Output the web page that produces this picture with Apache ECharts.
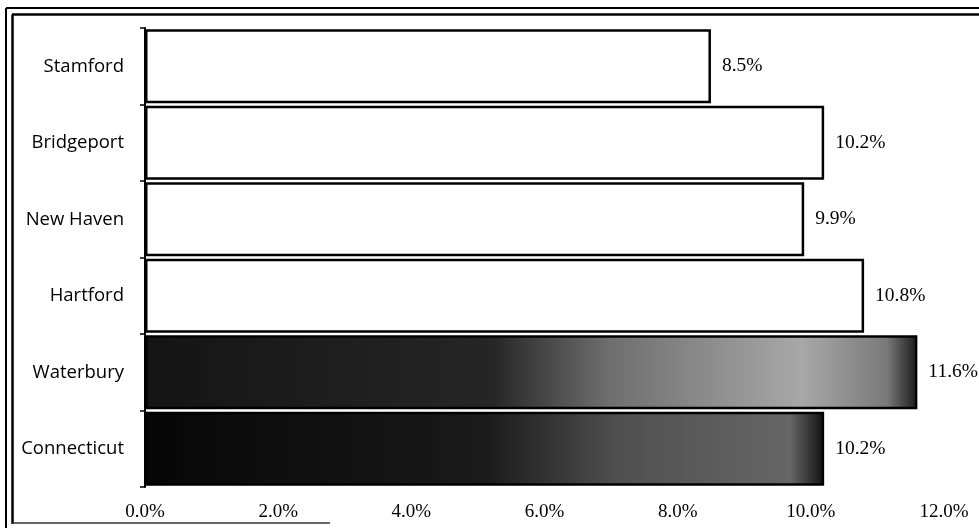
<!DOCTYPE html>
<html>
<head>
<meta charset="utf-8">
<script src="https://cdn.jsdelivr.net/npm/echarts@6/dist/echarts.min.js"></script>
<style>
  html, body { margin: 0; padding: 0; background: #ffffff; }
  #chart { width: 979px; height: 528px; }
</style>
</head>
<body>
<div id="chart"></div>
<script>
// Unemployment rate by city (top to bottom)
const cities = ['Stamford', 'Bridgeport', 'New Haven', 'Hartford', 'Waterbury', 'Connecticut'];
const rates = [8.5, 10.2, 9.9, 10.8, 11.6, 10.2];
const axisTicks = [0, 2, 4, 6, 8, 10, 12];

// Dark shaded fills for the last two bars, plain white for the rest
const darkFills = {
  'Waterbury': new echarts.graphic.LinearGradient(0, 0, 1, 0, [
    { offset: 0, color: '#141414' },
    { offset: 0.45, color: '#262626' },
    { offset: 0.6, color: '#6e6e6e' },
    { offset: 0.85, color: '#a8a8a8' },
    { offset: 0.96, color: '#7a7a7a' },
    { offset: 1, color: '#1a1a1a' }
  ]),
  'Connecticut': new echarts.graphic.LinearGradient(0, 0, 1, 0, [
    { offset: 0, color: '#060606' },
    { offset: 0.5, color: '#1a1a1a' },
    { offset: 0.7, color: '#505050' },
    { offset: 0.95, color: '#666666' },
    { offset: 1, color: '#121212' }
  ])
};

const barData = cities.map((name, i) => ({
  value: rates[i],
  itemStyle: {
    color: darkFills[name] || '#ffffff',
    borderColor: '#000000',
    borderWidth: 2.5
  }
}));

const chart = echarts.init(document.getElementById('chart'), null, { renderer: 'canvas' });

chart.setOption({
  animation: false,
  backgroundColor: '#ffffff',
  grid: { left: 145, right: 35, top: 28, bottom: 41, containLabel: false },
  xAxis: {
    type: 'value',
    min: axisTicks[0],
    max: axisTicks[axisTicks.length - 1],
    interval: axisTicks[1] - axisTicks[0],
    axisLine: { show: false },
    axisTick: { show: false },
    splitLine: { show: false },
    axisLabel: {
      margin: 16,
      color: '#000000',
      fontFamily: 'Liberation Serif',
      fontSize: 19,
      formatter: v => v.toFixed(1) + '%'
    }
  },
  yAxis: {
    type: 'category',
    data: cities,
    inverse: true,
    axisLine: { show: true, lineStyle: { color: '#000000', width: 2 } },
    axisTick: { show: true, length: 5, lineStyle: { color: '#000000', width: 1.5 } },
    splitLine: { show: false },
    axisLabel: {
      margin: 21,
      color: '#000000',
      fontFamily: 'Open Sans',
      fontSize: 18.5
    }
  },
  series: [{
    type: 'bar',
    data: barData,
    barCategoryGap: '3%',
    label: {
      show: true,
      position: 'right',
      distance: 11,
      color: '#000000',
      fontFamily: 'Liberation Serif',
      fontSize: 19.5,
      formatter: p => p.value.toFixed(1) + '%'
    }
  }],
  graphic: [
    // double frame along the top and left edges
    { type: 'line', shape: { x1: 6, y1: 8, x2: 979, y2: 8 }, style: { stroke: '#000', lineWidth: 2 } },
    { type: 'line', shape: { x1: 12, y1: 14.5, x2: 979, y2: 14.5 }, style: { stroke: '#000', lineWidth: 2.5 } },
    { type: 'line', shape: { x1: 6, y1: 8, x2: 6, y2: 528 }, style: { stroke: '#000', lineWidth: 2 } },
    { type: 'line', shape: { x1: 12.5, y1: 14.5, x2: 12.5, y2: 524 }, style: { stroke: '#000', lineWidth: 2.5 } },
    { type: 'line', shape: { x1: 12, y1: 523, x2: 330, y2: 523 }, style: { stroke: '#333', lineWidth: 1.5 } }
  ]
});
</script>
</body>
</html>
